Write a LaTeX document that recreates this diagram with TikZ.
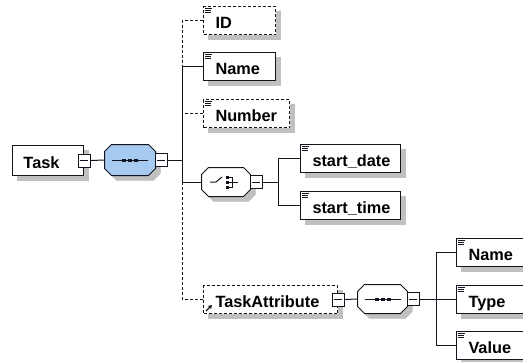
\documentclass[tikz,border=0pt]{standalone}
\usepackage{fontspec}
\setmainfont{Liberation Sans}
\usetikzlibrary{arrows.meta}
\definecolor{shgray}{RGB}{192,192,192}
\definecolor{seqblue}{RGB}{166,202,240}
\definecolor{inkc}{RGB}{20,20,30}
\newcommand{\eltext}[3][12pt]{\makebox[#2][l]{\hspace{#1}#3}}
\newcommand{\octpath}[3]{([shift={(7pt+#2,#3)}]#1.north west) -- ([shift={(-7pt+#2,#3)}]#1.north east) -- ([shift={(#2,-7pt+#3)}]#1.north east) -- ([shift={(#2,7pt+#3)}]#1.south east) -- ([shift={(-7pt+#2,#3)}]#1.south east) -- ([shift={(7pt+#2,#3)}]#1.south west) -- ([shift={(#2,7pt+#3)}]#1.south west) -- ([shift={(#2,-7pt+#3)}]#1.north west) -- cycle}
% element box: [options]{name}{x}{y}{width}{text}; its shadow is drawn first
\newcommand{\elbox}[6][]{%
  \node[shadownode,minimum width=#5pt,minimum height=28pt] (#2-sh) at (#3+5,#4+5) {};
  \node[elem,#1] (#2) at (#3,#4) {\eltext{#5pt}{#6}};
  \draw[icon] (#2.north west) +(2,2) -- +(9,2);
  \draw[icon] (#2.north west) +(2,4) -- +(8,4);
  \draw[icon] (#2.north west) +(2,6) -- +(8,6);
}
\begin{document}
\begin{tikzpicture}[x=1pt,y=-1pt,line width=1pt,
 shadownode/.style={rectangle,fill=shgray,draw=shgray,line width=0.1pt,inner sep=0pt,anchor=north west},
 elem/.style={draw=inkc,fill=white,rectangle,anchor=north west,inner sep=0pt,text height=22pt,text depth=6pt,font=\fontsize{16.3}{19}\selectfont\bfseries},
 opt/.style={dash pattern=on 3pt off 2pt},
 minusbox/.style={draw=inkc,fill=white,rectangle,inner sep=0pt,minimum width=12pt,minimum height=13pt},
 octbox/.style={rectangle,inner sep=0pt},
 octline/.style={draw=inkc,line width=1pt},
 octshadow/.style={fill=shgray,draw=shgray,line width=0.1pt},
 wire/.style={draw=inkc},
 icon/.style={draw=inkc,line width=0.8pt}
]
\useasboundingbox (0,0) rectangle (523,362);
% root element
\node[shadownode,minimum width=71pt,minimum height=30pt] (task-sh) at (17,150) {};
\node[elem,text height=23pt,text depth=7pt] (task) at (12,145) {\eltext[11pt]{71pt}{Task}};
\node[minusbox] (taskm) at (task.east) {};
\draw[wire] (taskm.west) +(2,0) -- +(10,0);
% sequence
\node[octbox,minimum width=50pt,minimum height=30pt] (seq) at (130,160) {};
\filldraw[octshadow] \octpath{seq}{5pt}{-5pt};
\filldraw[octline,fill=seqblue] \octpath{seq}{0pt}{0pt};
\node[minusbox,anchor=west] (seqm) at ([xshift=-1pt]seq.east) {};
\draw[wire] (seqm.west) +(2,0) -- +(10,0);
\draw[wire] (seq.center) +(-18,0) -- +(18,0);
\foreach \dx in {-6,0,6} \fill[inkc] (seq.center) +(\dx-2,-1.5) rectangle +(\dx+2,1.5);
\coordinate (bus1) at (182,0);
% children
\elbox[opt]{id}{203}{6}{72}{ID}
\elbox{name}{203}{52}{72}{Name}
\elbox[opt]{number}{203}{99}{86}{Number}
\node[octbox,minimum width=48pt,minimum height=28pt] (ch) at (226,182) {};
\filldraw[octshadow] \octpath{ch}{5pt}{-5pt};
\filldraw[octline,fill=white] \octpath{ch}{0pt}{0pt};
\node[minusbox,anchor=west] (chm) at ([xshift=-1pt]ch.east) {};
\draw[wire] (chm.west) +(2,0) -- +(10,0);
\draw[wire] (ch.center) +(-16,0) -- +(-10,0) -- +(-4,-5);
\foreach \dy in {-5,0,5} \fill[inkc] (ch.center) +(-0.5,\dy-1.5) rectangle +(2.5,\dy+1.5);
\draw[wire] (ch.center) +(2,-5) -- +(6,-5) -- +(6,5) -- +(2,5);
\draw[wire] (ch.center) +(2,0) -- +(12,0);
% TaskAttribute (reference, no text icon)
\node[shadownode,minimum width=134pt,minimum height=28pt] (ta-sh) at (208,290) {};
\node[elem,opt] (ta) at (203,285) {\eltext{134pt}{TaskAttribute}};
\node[minusbox] (tam) at (ta.east) {};
\draw[wire] (tam.west) +(2,0) -- +(10,0);
\draw[line width=1.3pt,draw=inkc,-{Triangle[length=3.5pt,width=4pt]}] (ta.south west) +(3,-3) -- +(9,-9);
\node[octbox,minimum width=49pt,minimum height=28pt] (seq2) at (382.5,299) {};
\filldraw[octshadow] \octpath{seq2}{5pt}{-5pt};
\filldraw[octline,fill=white] \octpath{seq2}{0pt}{0pt};
\node[minusbox,anchor=west] (seq2m) at ([xshift=-1pt]seq2.east) {};
\draw[wire] (seq2m.west) +(2,0) -- +(10,0);
\draw[wire] (seq2.center) +(-18,0) -- +(18,0);
\foreach \dx in {-6,0,6} \fill[inkc] (seq2.center) +(\dx-2,-1.5) rectangle +(\dx+2,1.5);
\coordinate (bus2) at (278,0);
\elbox{sd}{300}{144}{100}{start\_date}
\elbox{st}{300}{191}{100}{start\_time}
\coordinate (bus3) at (436,0);
\elbox{an}{456}{238}{73}{Name}
\elbox{at}{456}{285}{73}{Type}
\elbox{av}{456}{331}{73}{Value}
% connectors
\draw[wire] (taskm.east) -- (seq.west);
\draw[wire] (seqm.east) -- (seqm.east -| bus1);
\draw[wire,opt] (id.west) -- (id.west -| bus1) -- (name.west -| bus1);
\draw[wire] (name.west) -- (name.west -| bus1) -- (ch.west -| bus1) -- (ch.west);
\draw[wire,opt] (number.west) -- (number.west -| bus1);
\draw[wire,opt] (ch.west -| bus1) -- (ta.west -| bus1) -- (ta.west);
\draw[wire] (chm.east) -- (chm.east -| bus2);
\draw[wire] (sd.west) -- (sd.west -| bus2) -- (st.west -| bus2) -- (st.west);
\draw[wire] (tam.east) -- (seq2.west);
\draw[wire] (seq2m.east) -- (seq2m.east -| bus3);
\draw[wire] (an.west) -- (an.west -| bus3) -- (av.west -| bus3) -- (av.west);
\draw[wire] (at.west) -- (at.west -| bus3);
\end{tikzpicture}
\end{document}
